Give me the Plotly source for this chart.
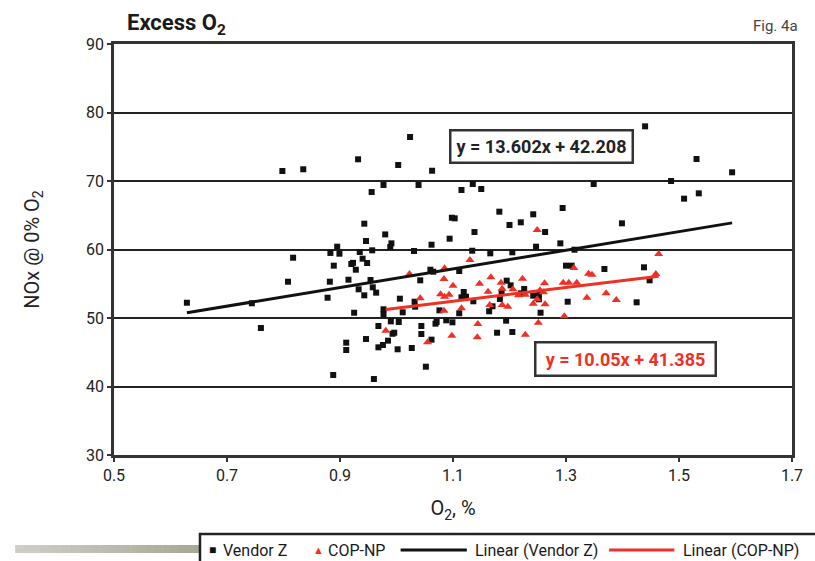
import plotly.graph_objects as go

# ---- data -------------------------------------------------------------
vendor_z_o2 = [
    0.629, 0.744, 0.760, 0.798, 0.835, 0.808, 0.817, 0.878, 0.882, 0.883,
    0.888, 0.889, 0.895, 0.899, 0.911, 0.911, 0.915, 0.920, 0.923, 0.925,
    0.928, 0.932, 0.933, 0.935, 0.940, 0.943, 0.943, 0.946, 0.946, 0.948,
    0.954, 0.956, 0.957, 0.958, 0.960, 0.964, 0.968, 0.968, 0.976, 0.977,
    0.977, 0.977, 0.980, 0.985, 0.989, 0.991, 0.990, 0.993, 0.996, 1.002,
    1.003, 1.004, 1.006, 1.011, 1.024, 1.027, 1.031, 1.032, 1.033, 1.039,
    1.042, 1.044, 1.044, 1.052, 1.060, 1.062, 1.062, 1.063, 1.065, 1.069,
    1.071, 1.076, 1.088, 1.094, 1.098, 1.103, 1.099, 1.111, 1.111, 1.115,
    1.115, 1.119, 1.123, 1.134, 1.135, 1.136, 1.138, 1.150, 1.164, 1.166,
    1.170, 1.178, 1.182, 1.183, 1.186, 1.194, 1.195, 1.200, 1.202, 1.205,
    1.205, 1.220, 1.220, 1.226, 1.242, 1.242, 1.247, 1.252, 1.252, 1.255,
    1.263, 1.290, 1.294, 1.300, 1.303, 1.310, 1.315, 1.349, 1.368, 1.399,
    1.425, 1.438, 1.440, 1.448, 1.486, 1.509, 1.531, 1.535, 1.594,
]
vendor_z_nox = [
    52.23, 52.15, 48.54, 71.46, 71.71, 55.30, 58.80, 52.96, 55.30, 59.50,
    41.68, 57.64, 60.41, 59.39, 46.40, 45.33, 55.59, 57.88, 58.05, 50.77,
    57.05, 73.17, 54.19, 59.64, 58.66, 63.77, 53.31, 61.24, 46.93, 58.03,
    55.55, 68.39, 59.88, 54.48, 41.09, 53.70, 48.83, 45.72, 46.06, 69.42,
    51.27, 50.54, 62.20, 46.69, 60.36, 60.90, 49.51, 47.70, 47.85, 45.43,
    72.34, 49.42, 52.82, 50.83, 76.42, 45.62, 59.78, 52.38, 51.65, 69.42,
    55.50, 48.83, 47.66, 42.89, 57.05, 60.70, 46.84, 71.50, 56.76, 49.17,
    49.42, 51.12, 49.66, 61.58, 64.64, 64.55, 49.37, 56.86, 50.69, 68.69,
    53.02, 53.80, 53.11, 59.82, 69.56, 52.44, 62.55, 68.83, 50.98, 59.44,
    51.71, 47.85, 65.52, 52.77, 53.75, 49.61, 55.45, 63.58, 54.77, 59.59,
    47.96, 63.97, 53.60, 54.23, 65.14, 53.26, 60.41, 53.46, 52.73, 50.77,
    62.55, 60.90, 66.06, 57.64, 52.38, 57.64, 59.97, 69.56, 57.15, 63.82,
    52.29, 57.40, 77.98, 55.50, 70.00, 67.42, 73.21, 68.20, 71.27,
]

cop_np_o2 = [
    0.981, 1.023, 1.042, 1.055, 1.078, 1.084, 1.084, 1.085, 1.085, 1.093,
    1.098, 1.100, 1.115, 1.130, 1.143, 1.144, 1.147, 1.162, 1.165, 1.167,
    1.185, 1.187, 1.187, 1.197, 1.206, 1.216, 1.223, 1.228, 1.228, 1.242,
    1.249, 1.249, 1.251, 1.254, 1.260, 1.262, 1.263, 1.295, 1.297, 1.305,
    1.314, 1.319, 1.337, 1.340, 1.346, 1.371, 1.389, 1.459, 1.464,
]
cop_np_nox = [
    48.15, 56.42, 52.88, 46.45, 53.46, 55.69, 51.07, 57.26, 53.11, 53.40,
    47.42, 54.72, 51.41, 58.47, 47.18, 49.12, 55.01, 53.84, 51.90, 55.94,
    55.16, 54.28, 51.90, 51.65, 54.19, 53.31, 55.74, 53.40, 47.56, 52.09,
    62.85, 52.73, 49.32, 54.04, 53.75, 55.07, 52.00, 55.16, 50.25, 55.16,
    57.30, 55.16, 52.96, 56.47, 56.33, 53.60, 52.63, 56.42, 59.34,
]

# linear trendline coefficients (slope, intercept)
fit_vendor_z = (13.602, 42.208)
fit_cop_np = (10.05, 41.385)

x_ticks = [0.5, 0.7, 0.9, 1.1, 1.3, 1.5, 1.7]
y_ticks = [30, 40, 50, 60, 70, 80, 90]

# ---- styling ----------------------------------------------------------
FONT = "Liberation Sans Narrow, Arial Narrow, Roboto, Liberation Sans, sans-serif"
BLACK = "#111111"
RED = "#ee3124"
FRAME = "#333333"
TXT = "#222222"

W, H = 815, 561
M = dict(l=114, r=15, t=44, b=106)
PW = W - M["l"] - M["r"]
PH = H - M["t"] - M["b"]


def px_x(px):
    return (px - M["l"]) / PW


def px_y(py):
    return (H - M["b"] - py) / PH


def trend(xs, coef):
    lo, hi = min(xs), max(xs)
    return [lo, hi], [coef[0] * lo + coef[1], coef[0] * hi + coef[1]]


fig = go.Figure()

fig.add_trace(go.Scatter(
    x=vendor_z_o2, y=vendor_z_nox, mode="markers", name="Vendor Z",
    marker=dict(symbol="square", size=6, color=BLACK, line=dict(width=0)),
    showlegend=False,
))
fig.add_trace(go.Scatter(
    x=cop_np_o2, y=cop_np_nox, mode="markers", name="COP-NP",
    marker=dict(symbol="triangle-up", size=8, color=RED, line=dict(width=0)),
    showlegend=False,
))
tx, ty = trend(vendor_z_o2, fit_vendor_z)
fig.add_trace(go.Scatter(x=tx, y=ty, mode="lines", name="Linear (Vendor Z)",
                         line=dict(color=BLACK, width=3), showlegend=False))
tx, ty = trend(cop_np_o2, fit_cop_np)
fig.add_trace(go.Scatter(x=tx, y=ty, mode="lines", name="Linear (COP-NP)",
                         line=dict(color=RED, width=3), showlegend=False))

shapes = []
annotations = []

# trendline equations in framed boxes
annotations.append(dict(
    x=1.256, y=75.0, xref="x", yref="y", showarrow=False,
    text="<b>y = %.3fx + %.3f</b>" % fit_vendor_z,
    font=dict(family=FONT, size=18, color=TXT),
    width=177, height=27, align="center",
    bgcolor="white", bordercolor=FRAME, borderwidth=2.5, borderpad=1.5,
))
annotations.append(dict(
    x=1.406, y=44.06, xref="x", yref="y", showarrow=False,
    text="<b>y = %.2fx + %.3f</b>" % fit_cop_np,
    font=dict(family=FONT, size=18, color=RED),
    width=175, height=28, align="center",
    bgcolor="white", bordercolor=FRAME, borderwidth=2.5, borderpad=1.5,
))

# heading texts
annotations.append(dict(
    x=px_x(125), y=px_y(24), xref="paper", yref="paper", xanchor="left",
    yanchor="middle", showarrow=False,
    text="<b>Excess O<sub>2</sub></b>",
    font=dict(family=FONT, size=22, color="#1a1a1a"),
))
annotations.append(dict(
    x=px_x(808), y=px_y(26), xref="paper", yref="paper", xanchor="right",
    yanchor="middle", showarrow=False, text="Fig. 4a",
    font=dict(family=FONT, size=15, color="#444444"),
))

# decorative gray bar with a soft gradient
n_seg = 24
c0, c1 = (206, 206, 198), (168, 168, 152)
for i in range(n_seg):
    t = i / (n_seg - 1)
    col = "rgb(%d,%d,%d)" % tuple(round(a + (b - a) * t) for a, b in zip(c0, c1))
    x0 = 14 + (202 - 14) * i / n_seg
    x1 = 14 + (202 - 14) * (i + 1) / n_seg + 0.5
    shapes.append(dict(type="rect", xref="paper", yref="paper",
                       x0=px_x(x0), x1=px_x(x1), y0=px_y(553), y1=px_y(545),
                       fillcolor=col, line=dict(width=0), layer="above"))

# legend box
shapes.append(dict(type="rect", xref="paper", yref="paper",
                   x0=px_x(201), x1=px_x(840), y0=px_y(590), y1=px_y(534),
                   fillcolor="white", line=dict(color="#222222", width=2.5)))
LEG_Y = px_y(550)
leg_font = dict(family=FONT, size=16, color="#1a1a1a")
legend_items = [
    (208, "■", dict(family=FONT, size=12, color=BLACK)),
    (222, "Vendor Z", leg_font),
    (313, "▲", dict(family=FONT, size=11, color=RED)),
    (328, "COP-NP", leg_font),
    (477, "Linear (Vendor Z)", leg_font),
    (688, "Linear (COP-NP)", leg_font),
]
for xpx, label, f in legend_items:
    annotations.append(dict(x=px_x(xpx), y=LEG_Y, text=label, font=f,
                            xref="paper", yref="paper", xanchor="left",
                            yanchor="middle", showarrow=False))
shapes.append(dict(type="line", xref="paper", yref="paper",
                   x0=px_x(404), x1=px_x(471), y0=LEG_Y, y1=LEG_Y,
                   line=dict(color=BLACK, width=3)))
shapes.append(dict(type="line", xref="paper", yref="paper",
                   x0=px_x(615), x1=px_x(681), y0=LEG_Y, y1=LEG_Y,
                   line=dict(color=RED, width=3)))

fig.update_layout(
    width=W, height=H, margin=M,
    paper_bgcolor="white", plot_bgcolor="white",
    font=dict(family=FONT, size=16, color=TXT),
    shapes=shapes, annotations=annotations,
    showlegend=False,
)
fig.update_xaxes(
    range=[0.5, 1.7], tickvals=x_ticks, ticktext=["%.1f" % v for v in x_ticks],
    showgrid=False, zeroline=False,
    showline=True, mirror=True, linecolor=FRAME, linewidth=2.5,
    ticks="outside", ticklen=4, tickwidth=2, tickcolor=FRAME,
    tickfont=dict(family=FONT, size=16, color=TXT),
    title=dict(text="O<sub>2</sub>, %", standoff=18,
               font=dict(family=FONT, size=20, color=TXT)),
)
fig.update_yaxes(
    range=[30, 90], tickvals=y_ticks,
    showgrid=True, gridcolor="#222222", gridwidth=1.5, zeroline=False,
    showline=True, mirror=True, linecolor=FRAME, linewidth=2.5,
    ticks="outside", ticklen=4, tickwidth=2, tickcolor=FRAME,
    tickfont=dict(family=FONT, size=16, color=TXT),
    title=dict(text="NOx @ 0% O<sub>2</sub>", standoff=42,
               font=dict(family=FONT, size=20, color=TXT)),
)

fig.write_html("out.html")
